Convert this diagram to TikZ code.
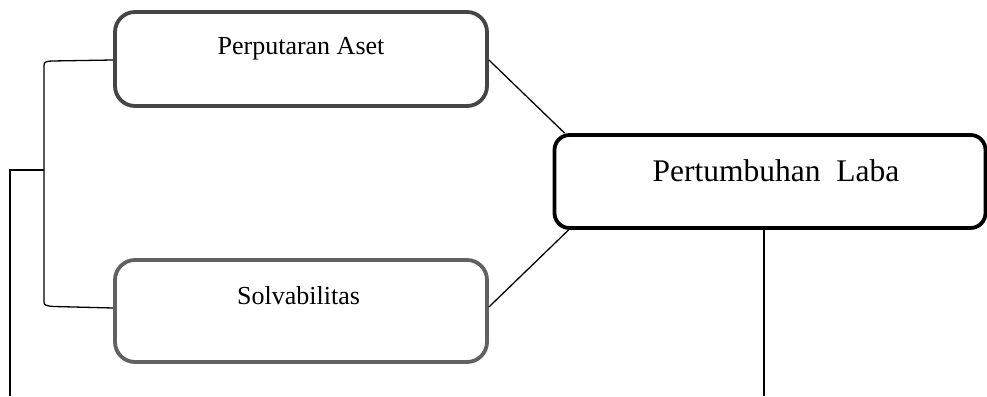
\documentclass[tikz,border=0pt]{standalone}
\usepackage{fontspec}
\setmainfont{Liberation Serif}
\begin{document}
\begin{tikzpicture}[x=1pt,y=-1pt,
  boxsty/.style={draw, rounded corners=20pt, line width=3.8pt, inner sep=0pt, fill=white},
  conn/.style={draw=black, line width=1.3pt},
  smalltxt/.style={font=\fontsize{26}{30}\selectfont, anchor=base, inner sep=0pt},
  bigtxt/.style={font=\fontsize{31.5}{36}\selectfont, anchor=base, inner sep=0pt}]
\useasboundingbox (0,0) rectangle (987,396);
% boxes
\node[boxsty, draw=black!73, minimum width=372pt, minimum height=94pt] (b1) at (301,59) {};
\node[boxsty, draw=black!62, minimum width=372pt, minimum height=102pt] (b2) at (301,311) {};
\node[boxsty, draw=black, rounded corners=15pt, minimum width=431pt, minimum height=93pt] (b3) at (770,181.5) {};
% labels
\node[smalltxt] (t1) at (301,55) {Perputaran Aset};
\node[smalltxt] (t2) at (298.5,304) {Solvabilitas};
\node[bigtxt] (t3) at (776,181) {Pertumbuhan~ Laba};
% connectors
\draw[conn] ([yshift=-1pt]b1.east) -- ([xshift=12pt]b3.north west);
\draw[conn] ([yshift=4pt]b2.east) -- ([xshift=16pt]b3.south west);
\coordinate (bl) at (44,170);
\coordinate (st) at (10,170);
\coordinate (sb) at (10,396);
\coordinate (lb) at (764,396);
\draw[conn] ([yshift=-1pt]b1.west) -- (52,61) .. controls (45,61.5) and (44,62) .. (44,66) -- (44,302) .. controls (44,305) and (46,306) .. (54,306.5) -- ([yshift=3pt]b2.west);
\draw[conn] (bl) -- (st) -- (sb);
\draw[conn] (764,227) -- (lb);
\end{tikzpicture}
\end{document}
